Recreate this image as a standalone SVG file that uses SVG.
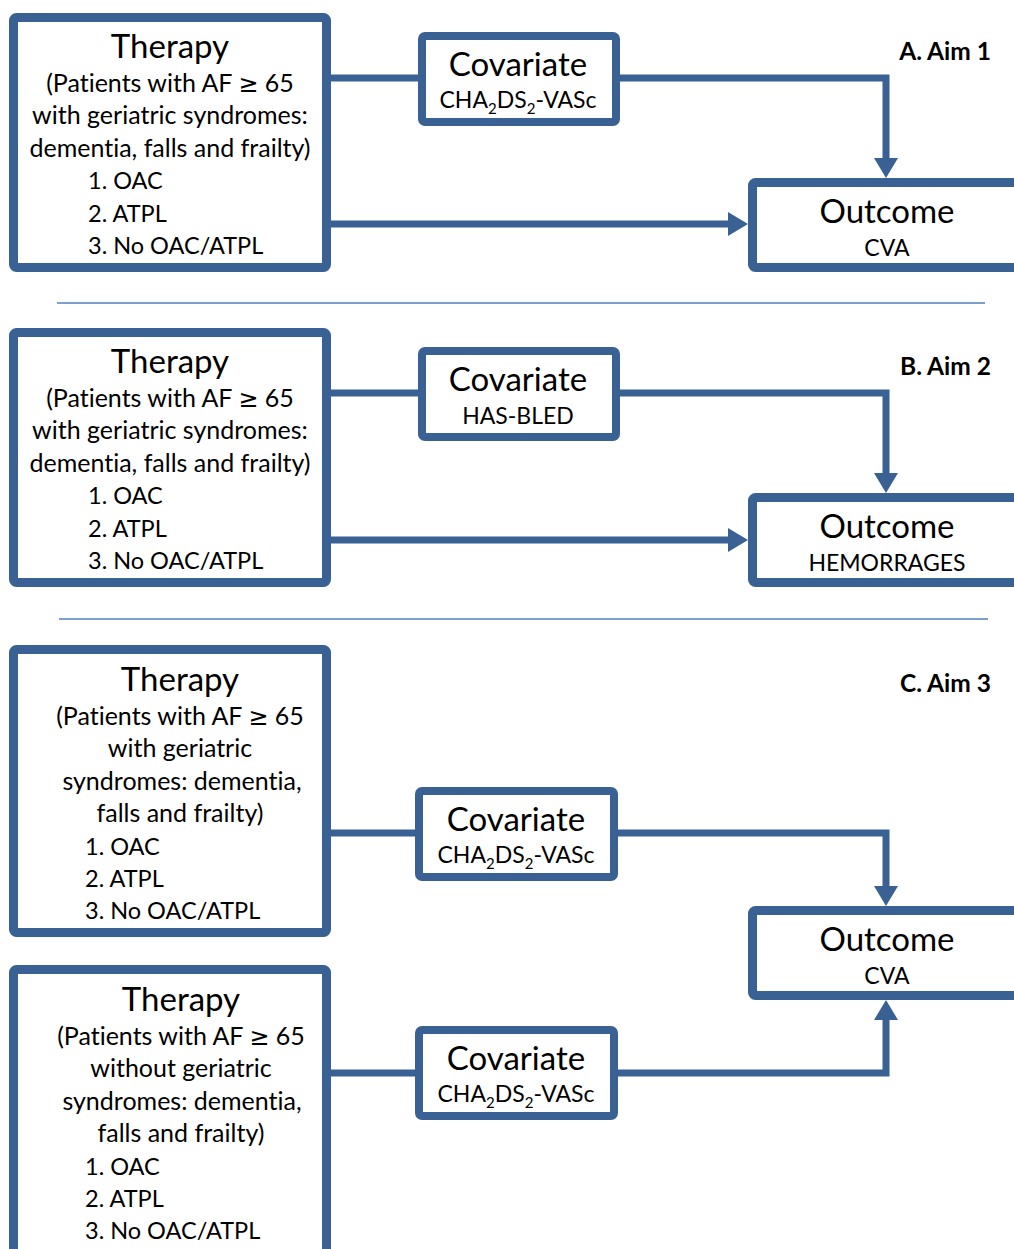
<svg xmlns="http://www.w3.org/2000/svg" width="1014" height="1249" viewBox="0 0 1014 1249">
<style>
.box{fill:#ffffff;stroke:#3a6193;stroke-width:9}
.cbox{fill:#ffffff;stroke:#3a6193;stroke-width:8}
.con{fill:none;stroke:#3a6193;stroke-width:7}
.sep{stroke:#4f81bd;stroke-width:1.3}
text{font-family:Lato,"Liberation Sans",sans-serif;fill:#000;font-variant-ligatures:none}
.h{font-size:33px;text-anchor:middle}
.t{font-size:25px;text-anchor:middle}
.l{font-size:23.5px}
.s{font-size:23px;text-anchor:middle}
.aim{font-size:24.5px;font-weight:bold;text-anchor:end}
.sub{font-size:15px}
.ge{font-family:"DejaVu Sans",sans-serif;font-size:24px}
</style>
<rect width="1014" height="1249" fill="#ffffff"/>
<g id="separators">
<line class="sep" x1="57" y1="303" x2="985" y2="303"/>
<line class="sep" x1="59" y1="619" x2="988" y2="619"/>
</g>
<g id="connectors">
<line class="con" x1="331" y1="78" x2="418" y2="78"/>
<path class="con" d="M620,78 H886 V159"/>
<path class="con" d="M331,224 H729"/>
<line class="con" x1="331" y1="393" x2="418" y2="393"/>
<path class="con" d="M620,393 H886 V474"/>
<path class="con" d="M331,540 H729"/>
<line class="con" x1="331" y1="833" x2="415" y2="833"/>
<path class="con" d="M618,833 H886 V887"/>
<line class="con" x1="331" y1="1073" x2="415" y2="1073"/>
<path class="con" d="M618,1073 H886 V1019"/>
<g id="arrowheads" fill="#3a6193">
<path d="M874,158 L898,158 L886,178 z"/>
<path d="M728,212 L748,224 L728,236 z"/>
<path d="M874,473 L898,473 L886,493 z"/>
<path d="M728,528 L748,540 L728,552 z"/>
<path d="M874,886 L898,886 L886,906 z"/>
<path d="M874,1020 L898,1020 L886,1000 z"/>
</g>
</g>
<g id="therapyA">
<rect class="box" x="13.5" y="17.5" width="313" height="250" rx="3"/>
<text class="h" x="170" y="58">Therapy</text>
<text class="t" x="170" y="92">(Patients with AF <tspan class="ge">≥</tspan> 65</text>
<text class="t" x="170" y="124">with geriatric syndromes:</text>
<text class="t" x="170" y="157">dementia, falls and frailty)</text>
<text class="l" x="88" y="189">1. OAC</text>
<text class="l" x="88" y="222">2. ATPL</text>
<text class="l" x="88" y="254">3. No OAC/ATPL</text>
</g>
<g id="covariateA">
<rect class="cbox" x="422" y="36" width="194" height="86" rx="3"/>
<text class="h" x="518" y="76">Covariate</text>
<text class="s" x="518" y="108">CHA<tspan class="sub" dy="6">2</tspan><tspan dy="-6">DS</tspan><tspan class="sub" dy="6">2</tspan><tspan dy="-6">-VASc</tspan></text>
</g>
<g id="outcomeA">
<rect class="box" x="752.5" y="182.5" width="300" height="85" rx="3"/>
<text class="h" x="887" y="223">Outcome</text>
<text class="s" x="887" y="256">CVA</text>
</g>
<text class="aim" x="991" y="60">A. Aim 1</text>
<g id="therapyB">
<rect class="box" x="13.5" y="332.5" width="313" height="250" rx="3"/>
<text class="h" x="170" y="373">Therapy</text>
<text class="t" x="170" y="407">(Patients with AF <tspan class="ge">≥</tspan> 65</text>
<text class="t" x="170" y="439">with geriatric syndromes:</text>
<text class="t" x="170" y="472">dementia, falls and frailty)</text>
<text class="l" x="88" y="504">1. OAC</text>
<text class="l" x="88" y="537">2. ATPL</text>
<text class="l" x="88" y="569">3. No OAC/ATPL</text>
</g>
<g id="covariateB">
<rect class="cbox" x="422" y="351" width="194" height="86" rx="3"/>
<text class="h" x="518" y="391">Covariate</text>
<text class="s" x="518" y="424">HAS-BLED</text>
</g>
<g id="outcomeB">
<rect class="box" x="752.5" y="497.5" width="300" height="85" rx="3"/>
<text class="h" x="887" y="538">Outcome</text>
<text class="s" x="887" y="571">HEMORRAGES</text>
</g>
<text class="aim" x="991" y="375">B. Aim 2</text>
<g id="therapyC1">
<rect class="box" x="13.5" y="649.5" width="313" height="283" rx="3"/>
<text class="h" x="180" y="691">Therapy</text>
<text class="t" x="180" y="725">(Patients with AF <tspan class="ge">≥</tspan> 65</text>
<text class="t" x="180" y="757">with geriatric</text>
<text class="t" x="182" y="790">syndromes: dementia,</text>
<text class="t" x="180" y="822">falls and frailty)</text>
<text class="l" x="85" y="855">1. OAC</text>
<text class="l" x="85" y="887">2. ATPL</text>
<text class="l" x="85" y="919">3. No OAC/ATPL</text>
</g>
<g id="therapyC2">
<rect class="box" x="13.5" y="969.5" width="313" height="300" rx="3"/>
<text class="h" x="181" y="1011">Therapy</text>
<text class="t" x="181" y="1045">(Patients with AF <tspan class="ge">≥</tspan> 65</text>
<text class="t" x="181" y="1077">without geriatric</text>
<text class="t" x="182" y="1110">syndromes: dementia,</text>
<text class="t" x="181" y="1142">falls and frailty)</text>
<text class="l" x="85" y="1175">1. OAC</text>
<text class="l" x="85" y="1207">2. ATPL</text>
<text class="l" x="85" y="1239">3. No OAC/ATPL</text>
</g>
<g id="covariateC1">
<rect class="cbox" x="419" y="791" width="195" height="86" rx="3"/>
<text class="h" x="516" y="831">Covariate</text>
<text class="s" x="516" y="863">CHA<tspan class="sub" dy="6">2</tspan><tspan dy="-6">DS</tspan><tspan class="sub" dy="6">2</tspan><tspan dy="-6">-VASc</tspan></text>
</g>
<g id="covariateC2">
<rect class="cbox" x="419" y="1030" width="195" height="86" rx="3"/>
<text class="h" x="516" y="1070">Covariate</text>
<text class="s" x="516" y="1102">CHA<tspan class="sub" dy="6">2</tspan><tspan dy="-6">DS</tspan><tspan class="sub" dy="6">2</tspan><tspan dy="-6">-VASc</tspan></text>
</g>
<g id="outcomeC">
<rect class="box" x="752.5" y="910.5" width="300" height="85" rx="3"/>
<text class="h" x="887" y="951">Outcome</text>
<text class="s" x="887" y="984">CVA</text>
</g>
<text class="aim" x="991" y="692">C. Aim 3</text>
</svg>
